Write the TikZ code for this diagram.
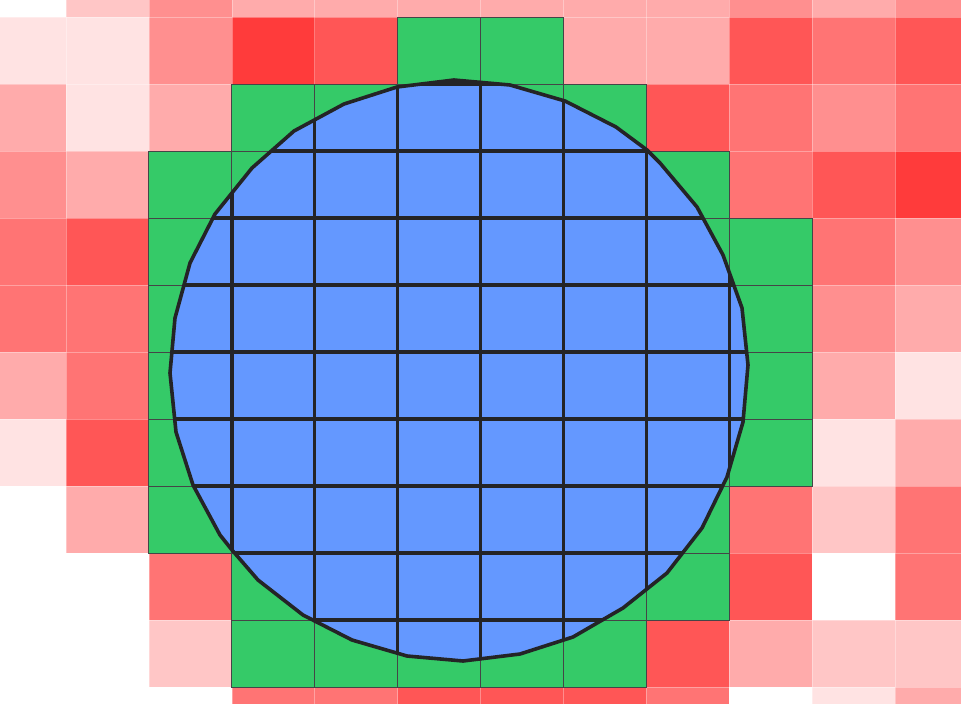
\documentclass[tikz,border=0pt]{standalone}
\definecolor{redbase}{RGB}{255,59,59}
\definecolor{cellgreen}{RGB}{53,202,104}
\definecolor{blobblue}{RGB}{100,152,255}
\definecolor{ink}{RGB}{36,36,38}
\tikzset{
  redcell/.style={draw=white, draw opacity=0.18, line width=0.6pt},
  greencell/.style={fill=cellgreen, draw=ink!85, line width=1pt},
  blobfill/.style={fill=blobblue},
  gridline/.style={draw=ink, line width=3.4pt},
  bloboutline/.style={draw=ink, line width=3.6pt, line join=round}
}
\def\blob{(454,80) -- (510,85) -- (565,101) -- (616,127) -- (647,150) -- (660,163) -- (697,207) -- (723,255) -- (742,308) -- (748,365) -- (743,422) -- (727,477) -- (702,528) -- (667,573) -- (623,608) -- (573,637) -- (520,654) -- (463,661) -- (407,656) -- (352,640) -- (303,615) -- (258,580) -- (232,550) -- (220,535) -- (193,485) -- (176,432) -- (170,373) -- (175,318) -- (190,263) -- (215,214) -- (252,168) -- (294,131) -- (344,104) -- (397,87) -- cycle}
\begin{document}
\begin{tikzpicture}[x=1pt,y=-1pt]
\useasboundingbox (0,0) rectangle (961,704);
\clip (0,0) rectangle (961,704);
\fill[white] (0,0) rectangle (961,704);
\def\cells{0/{0,2,4,3,3,3,3,3,3,4,3,4},
1/{1,1,4,7,6,8,8,3,3,6,5,6},
2/{3,1,3,8,8,8,8,8,6,5,4,5},
3/{4,3,8,8,8,8,8,8,8,5,6,7},
4/{5,6,8,8,8,8,8,8,8,8,5,4},
5/{5,5,8,8,8,8,8,8,8,8,4,3},
6/{3,5,8,8,8,8,8,8,8,8,3,1},
7/{1,6,8,8,8,8,8,8,8,8,1,3},
8/{0,3,8,8,8,8,8,8,8,5,2,5},
9/{0,0,5,8,8,8,8,8,8,6,0,5},
10/{0,0,2,8,8,8,8,8,6,3,2,2},
11/{0,0,0,5,5,6,6,6,5,0,1,3}}
% red cells
\foreach \r/\row in \cells {
  \foreach \v [count=\c from 0] in \row {
    \pgfmathsetmacro\xa{-16.9+82.9*\c}
    \pgfmathsetmacro\ya{-50+67*\r}
    \ifnum\v<8
      \pgfmathtruncatemacro\pc{round(\v*100/7)}
      \fill[redbase!\pc!white] (\xa,\ya) rectangle ++(82.9,67);
    \fi
  }
}
% seams
\foreach \r/\row in \cells {
  \foreach \v [count=\c from 0] in \row {
    \pgfmathsetmacro\xa{-16.9+82.9*\c}
    \pgfmathsetmacro\ya{-50+67*\r}
    \ifnum\v<8
      \draw[redcell] (\xa,\ya) rectangle ++(82.9,67);
    \fi
  }
}
% green cells
\foreach \r/\row in \cells {
  \foreach \v [count=\c from 0] in \row {
    \pgfmathsetmacro\xa{-16.9+82.9*\c}
    \pgfmathsetmacro\ya{-50+67*\r}
    \ifnum\v=8
      \filldraw[greencell] (\xa,\ya) rectangle ++(82.9,67);
    \fi
  }
}
% blob
\fill[blobfill] \blob;
\begin{scope}
  \clip \blob;
  \foreach \i in {1,...,11} {
    \pgfmathsetmacro\xx{-16.9+82.9*\i}
    \draw[gridline] (\xx,0) -- (\xx,704);
  }
  \foreach \j in {1,...,11} {
    \pgfmathsetmacro\yy{-50+67*\j}
    \draw[gridline] (0,\yy) -- (961,\yy);
  }
\end{scope}
\draw[bloboutline] \blob;
\end{tikzpicture}
\end{document}
